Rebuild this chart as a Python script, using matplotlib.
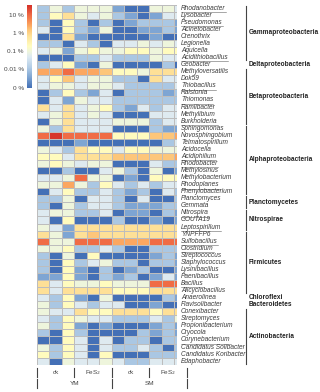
import numpy as np
import matplotlib
matplotlib.use('Agg')
import matplotlib.pyplot as plt
from matplotlib.colors import LinearSegmentedColormap
from matplotlib.lines import Line2D

plt.rcParams['font.family'] = ['Liberation Sans', 'DejaVu Sans']

# relative abundance (%) per genus, columns: YM ck x3, YM FeS2 x3, SM ck x3, SM FeS2 x3
gamma_genera = ['Rhodanobacter', 'Lysobacter', 'Pseudomonas', 'Acinetobacter',
                'Crenothrix', 'Legionella', 'Aquicella', 'Acidithiobacillus']
gamma = [[.01, .1, .01, .1, .1, .1, .003, 0, 0, .1, .1, .05],
         [.01, .2, .7, .1, .05, .1, .01, .003, 0, .003, .05, .05],
         [.01, 0, .2, .01, 0, .01, 0, .003, .01, .01, .01, .003],
         [.05, 0, .2, .01, .003, .1, 0, 0, .003, .003, .01, .003],
         [0, 0, .7, .003, 0, 0, 0, 0, 0, .003, 0, 0],
         [.01, .01, 0, .05, .01, 0, .05, .05, .1, .05, .1, .05],
         [.05, .1, .003, .1, .2, .1, .1, .2, .2, .1, .2, .2],
         [0, 0, 0, .01, .01, .05, .01, .01, .01, .1, .05, .05]]

delta_genera = ['Geobacter']
delta = [[.01, .05, .2, .003, 0, .1, 0, 0, 0, 0, .01, 0]]

beta_genera = ['Methyloversatilis', 'Dok59', 'Thiobacillus', 'Ralstonia',
               'Thiomonas', 'Ramlibacter', 'Methylibium', 'Burkholderia']
beta = [[2.6, 2.6, 9, 2.6, 2.6, 1.4, .2, .2, .1, .7, .7, .7],
        [.05, .2, 1.4, .05, .1, .1, .01, .01, 0, .7, .05, .05],
        [.05, .1, .1, .05, .1, .1, .05, .01, .01, .01, .01, .05],
        [0, .01, .2, .01, .003, .05, 0, .01, .01, .01, .003, .01],
        [0, .05, .003, .1, .05, .05, .01, .01, .01, .01, .01, .01],
        [.7, .05, .7, .05, .1, .2, .01, .003, .05, .01, .05, .05],
        [.05, .1, .7, .05, .1, .05, 0, 0, 0, .05, .05, .05],
        [0, .1, .7, .05, .05, .05, .1, .1, .1, .01, .05, .05]]

alpha_genera = ['Sphingomonas', 'Novosphingobium', 'Telmatospirillum', 'Acidocella',
                'Acidiphilium', 'Rhodobacter', 'Methylosinus', 'Methylobacterium',
                'Rhodoplanes', 'Phenylobacterium']
alpha = [[.1, .01, .7, .05, .05, .05, 0, 0, 0, .01, .003, .003],
         [9, 30, 9, 9, 9, 9, .2, .2, .2, 1.4, 1.4, 2.6],
         [0, 0, 0, .003, 0, 0, 0, 0, 0, 0, .01, .05],
         [.1, .05, .01, .7, .2, .2, .05, .2, .2, .1, .1, .1],
         [.2, .2, .05, .7, .7, .7, 1.4, 1.4, 1.4, 1.4, 1.4, 2.6],
         [.1, .2, .1, .05, .1, .1, 0, 0, 0, .05, .01, .01],
         [0, 0, .01, 0, 0, .05, .1, .01, 0, .1, 0, .003],
         [.05, .05, .1, 9, .1, .1, 0, .003, 0, .2, .2, .2],
         [.1, .1, 2.6, .1, .01, .2, .05, .01, .05, .01, .05, .05],
         [0, .05, .2, .01, .01, .05, .01, .003, .01, 0, .05, .01]]

plancto_genera = ['Planctomyces', 'Gemmata']
plancto = [[.01, .01, .1, 0, .05, .05, .01, 0, .05, 0, 0, .01],
           [.01, 0, .1, .01, .05, .05, .01, .003, .003, .003, .01, .01]]

nitro_genera = ['Nitrospira', 'GOUTA19', 'Leptospirillum']
nitro = [[.05, .1, .1, .01, .01, .05, 0, .003, .003, 0, .01, .003],
         [.05, 0, .2, 0, 0, 0, .01, 0, 0, .003, 0, .003],
         [.1, .05, .003, .7, .7, .7, .7, .7, .7, .7, .7, .7]]

firm_genera = ['YNPFFP6', 'Sulfobacillus', 'Clostridium', 'Streptococcus',
               'Staphylococcus', 'Lysinibacillus', 'Paenibacillus', 'Bacillus',
               'Alicyclobacillus']
firm = [[.7, .1, .003, .7, 1.4, .7, .7, .7, .7, .7, .7, .7],
        [9, .1, .1, 9, 9, 9, 2.6, 2.6, 2.6, 9, 9, 9],
        [.1, .1, .2, .01, .01, .05, .01, 0, 0, .01, .01, .01],
        [.01, 0, .1, 0, .2, 0, 0, 0, 0, .003, .01, .003],
        [.01, 0, .2, .01, .05, .1, .01, .01, 0, .01, .01, .003],
        [.01, 0, .2, .003, 0, .01, 0, .003, .01, 0, 0, .003],
        [.003, .003, .2, .003, 0, .01, .003, .01, 0, .003, .05, .003],
        [.7, .05, .2, .1, .1, .2, .1, .1, .1, 9, 9, 9],
        [.7, .05, .7, .7, .7, .7, .2, .2, .2, .7, .7, .7]]

chloro_genera = ['Anaerolinea']
chloro = [[.05, .01, .2, .003, 0, .1, 0, 0, 0, 0, .01, .003]]

bacter_genera = ['Flavisolibacter']
bacter = [[.1, .01, .2, .05, .01, .05, .05, 0, 0, .003, 0, 0]]

actino_genera = ['Conexibacter', 'Streptomyces', 'Propionibacterium', 'Cryocola',
                 'Corynebacterium', 'Candidatus Solibacter', 'Candidatus Koribacter',
                 'Edaphobacter']
actino = [[.1, .05, .05, .7, .2, .2, .7, .7, .7, .2, .7, .7],
          [.05, .01, .2, .1, .05, .05, .01, .01, .01, .05, .01, .1],
          [.1, .01, .2, .003, 0, .003, 0, 0, 0, .003, .01, .003],
          [.01, 0, .2, .01, 0, 0, 0, 0, .01, .003, .01, .003],
          [0, 0, .2, .05, 0, .05, 0, .01, .01, 0, .01, .01],
          [.1, .01, .2, .05, 0, .05, .01, .01, .05, .01, 0, .01],
          [.2, .01, .2, .05, 0, .2, 0, 0, 0, .01, .01, .01],
          [.05, 0, .1, .05, .05, .1, .05, .01, .01, .05, .05, .05]]

underlined = ['Rhodanobacter', 'Pseudomonas', 'Acidithiobacillus', 'Thiobacillus',
              'Thiomonas', 'Burkholderia', 'Acidiphilium', 'Rhodobacter', 'Rhodoplanes',
              'Nitrospira', 'Leptospirillum', 'Sulfobacillus', 'Clostridium', 'Bacillus',
              'Corynebacterium']

groups = [('Gammaproteobacteria', gamma_genera, gamma),
          ('Deltaproteobacteria', delta_genera, delta),
          ('Betaproteobacteria', beta_genera, beta),
          ('Alphaproteobacteria', alpha_genera, alpha),
          ('Planctomycetes', plancto_genera, plancto),
          ('Nitrospirae', nitro_genera, nitro),
          ('Firmicutes', firm_genera, firm),
          ('Chloroflexi', chloro_genera, chloro),
          ('Bacteroidetes', bacter_genera, bacter),
          ('Actinobacteria', actino_genera, actino)]

treatments = ['ck', 'FeS$_2$', 'ck', 'FeS$_2$']
soils = ['YM', 'SM']
cbar_ticks = [0, 0.01, 0.1, 1, 10]
cbar_labels = ['0 %', '0.01 %', '0.1 %', '1 %', '10 %']

genera = [g for _, names, _ in groups for g in names]
values = np.array([r for _, _, rows in groups for r in rows], dtype=float)
logv = np.log10(values + 0.001)

cmap = LinearSegmentedColormap.from_list(
    'abund', [(0.0, '#4470b6'), (0.13, '#7ea5d3'), (0.24, '#b0cbe5'),
              (0.37, '#dce9f2'), (0.44, '#eef5dc'), (0.5, '#fffcc0'),
              (0.62, '#fee39a'), (0.7, '#fdc477'), (0.76, '#fba35e'),
              (0.87, '#f06c45'), (1.0, '#d42f28')])

W, H = 320, 392
fig = plt.figure(figsize=(W / 100, H / 100), dpi=100)

def fx(px):
    return px / W

def fy(py):
    return 1 - py / H

top, bot = 4.7, 364.7
left, cw = 36.7, 12.5
right = 177.0
nrow = len(genera)
rh = (bot - top) / nrow

ax = fig.add_axes([fx(left), fy(bot), fx(right - left), (bot - top) / H])
mesh = ax.pcolormesh(logv, cmap=cmap, vmin=-3, vmax=1.55,
                     edgecolors='#bdbdbd', linewidth=0.5)
ax.set_xlim(0, (right - left) / cw)
ax.set_ylim(nrow, 0)
ax.set_axis_off()

# colour bar
cax = fig.add_axes([fx(26.7), fy(88), fx(5.6), (88 - 4.7) / H])
cb = fig.colorbar(mesh, cax=cax)
cb.outline.set_visible(False)
cb.set_ticks(np.log10(np.array(cbar_ticks) + 0.001))
cb.set_ticklabels(cbar_labels)
cax.yaxis.set_ticks_position('left')
cax.tick_params(length=0, labelsize=4.6, labelcolor='#444444', pad=2)

# genus labels
texts = []
for i, g in enumerate(genera):
    yc = top + (i + 0.5) * rh
    t = fig.text(fx(181), fy(yc), g, fontsize=4.7, style='italic',
                 color='#3a3a3a', ha='left', va='center')
    texts.append((g, t))

fig.canvas.draw()
r = fig.canvas.get_renderer()
for g, t in texts:
    if g in underlined:
        bb = t.get_window_extent(r)
        yline = bb.y0 - 0.3
        fig.add_artist(Line2D([bb.x0 / W, bb.x1 / W], [yline / H, yline / H],
                              color='#666666', lw=0.4))

# phylum labels and brackets
row = 0
for name, names, _ in groups:
    n = len(names)
    y0 = top + row * rh
    y1 = top + (row + n) * rh
    fig.text(fx(249), fy((y0 + y1) / 2), name, fontsize=4.7, fontweight='bold',
             color='#222222', ha='left', va='center')
    if n > 1:
        fig.add_artist(Line2D([fx(245.5), fx(245.5)], [fy(y0 + 1), fy(y1 - 1)],
                              color='#444444', lw=0.8))
    row += n

# sample labels below the map
for k in range(5):
    x = left + k * 3 * cw
    fig.add_artist(Line2D([fx(x), fx(x)], [fy(368), fy(377)], color='#444444', lw=0.8))
for k, lab in enumerate(treatments):
    x = left + (k + 0.5) * 3 * cw
    fig.text(fx(x), fy(372.5), lab, fontsize=4.6, color='#444444', ha='center', va='center')
for k in range(3):
    x = left + k * 6 * cw
    fig.add_artist(Line2D([fx(x), fx(x)], [fy(378.5), fy(387.5)], color='#444444', lw=0.8))
for k, lab in enumerate(soils):
    x = left + (k + 0.5) * 6 * cw
    fig.text(fx(x), fy(383.5), lab, fontsize=4.6, color='#444444', ha='center', va='center')

fig.savefig('out.png', dpi=100)
